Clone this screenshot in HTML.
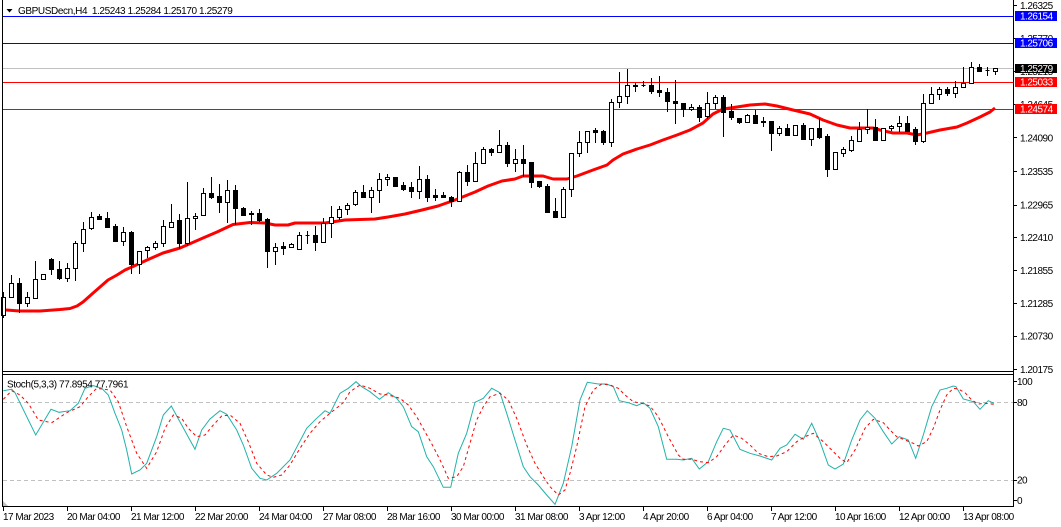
<!DOCTYPE html>
<html><head><meta charset="utf-8"><style>
html,body{margin:0;padding:0;background:#fff;}
svg{display:block;}
text{font-family:"Liberation Sans",sans-serif;font-size:10px;fill:#000;}
.ax{letter-spacing:-0.5px;}
.wt{fill:#fff;letter-spacing:-0.5px;}
</style></head><body>
<svg width="1061" height="527" viewBox="0 0 1061 527" xmlns="http://www.w3.org/2000/svg">
<rect x="0" y="0" width="1061" height="527" fill="#fff"/>
<!-- horizontal levels -->
<g shape-rendering="crispEdges">
<line x1="2" y1="16.5" x2="1013" y2="16.5" stroke="#0000ff"/>
<line x1="2" y1="43.5" x2="1013" y2="43.5" stroke="#0000ff"/>
<line x1="2" y1="68.5" x2="1013" y2="68.5" stroke="#c0c0c0"/>
<line x1="2" y1="82.5" x2="1013" y2="82.5" stroke="#ff0000"/>
<line x1="2" y1="109.5" x2="1013" y2="109.5" stroke="#ff0000"/>
</g>
<!-- MA -->
<polyline fill="none" stroke="#ff0000" stroke-width="3" stroke-linejoin="round" points="6,310 20,311 40,311 60,309.5 70,308.5 77,306 83,302 92,294 100,287 108,280 117,275 125,270 133,266.5 147,260 163,253 180,248 187,245 203,238 217,232 233,224.5 250,222.5 265,223 275,225 288,225 295,223 325,223 345,220 375,219 388,217 405,214 422,210 438,206 455,200 465,196 475,192 488,186 502,181 515,179 523,176 543,176 553,179 567,179 577,176 593,170 607,165 613,160 623,154 637,149 650,145 663,140 677,135 690,130 703,123 713,114 723,109 737,107 750,105 765,104 777,106 793,110 810,114 823,120 837,125 850,128 873,128 880,130 893,133 907,133 917,135 927,133 940,130 957,127 967,123 980,117 990,112 995,108"/>
<!-- wicks -->
<path fill="none" stroke="#000" stroke-width="1" shape-rendering="crispEdges" d="M3.5 292V318M11.5 275V297M19.5 278V313M27.5 292V307M35.5 261V298M43.5 274V280M51.5 258V275M59.5 261V280M67.5 263V282M75.5 241V281M83.5 222V252M91.5 212V230M99.5 214V220M107.5 212V228M115.5 224V242M123.5 227V246M131.5 231V274M139.5 251V274M147.5 246V258M155.5 241V250M163.5 220V247M171.5 204V227M179.5 214V249M187.5 182V246M195.5 213V230M203.5 188V216M211.5 177V199M219.5 184V213M227.5 180V223M235.5 185V225M243.5 207V216M251.5 211V225M259.5 209V222M267.5 218V268M275.5 243V265M283.5 242V255M291.5 243V247M299.5 232V249M307.5 231V244M315.5 226V251M323.5 218V243M331.5 206V238M339.5 206V220M347.5 203V215M355.5 190V206M363.5 185V197M371.5 187V213M379.5 173V203M387.5 174V186M395.5 177V187M403.5 182V191M411.5 182V198M419.5 166V199M427.5 175V202M435.5 189V201M443.5 192V198M451.5 196V207M459.5 171V201M467.5 165V186M475.5 152V181M483.5 147V164M491.5 148V156M499.5 130V153M507.5 142V167M515.5 149V172M523.5 145V177M531.5 162V188M539.5 181V188M547.5 184V213M555.5 198V217M563.5 187V217M571.5 153V197M579.5 131V157M587.5 131V153M595.5 128V143M603.5 130V145M611.5 99V147M619.5 72V108M627.5 69V104M635.5 83V92M643.5 81V87M651.5 78V94M659.5 76V97M667.5 88V112M675.5 80V124M683.5 103V117M691.5 104V111M699.5 105V122M707.5 92V119M715.5 95V109M723.5 95V137M731.5 104V120M739.5 118V124M747.5 114V123M755.5 110V124M763.5 117V127M771.5 121V151M779.5 126V136M787.5 124V136M795.5 125V136M803.5 123V140M811.5 128V146M819.5 118V139M827.5 134V177M835.5 152V169M843.5 147V157M851.5 136V152M859.5 122V141M867.5 109V134M875.5 119V140M883.5 128V141M891.5 125V131M899.5 116V132M907.5 116V132M915.5 127V145M923.5 94V143M931.5 87V104M939.5 87V100M947.5 87V96M955.5 81V98M963.5 67V87M971.5 62V84M979.5 64V72M987.5 67V76M995.5 68V75"/>
<!-- white bodies -->
<path fill="#fff" stroke="#000" stroke-width="1" shape-rendering="crispEdges" d="M1.5 297.5h4v18h-4zM9.5 283.5h4v14h-4zM25.5 297.5h4v6h-4zM33.5 279.5h4v19h-4zM41.5 274.5h4v5h-4zM65.5 268.5h4v10h-4zM73.5 243.5h4v25h-4zM81.5 229.5h4v14h-4zM89.5 217.5h4v11h-4zM121.5 232.5h4v9h-4zM137.5 251.5h4v13h-4zM145.5 247.5h4v3h-4zM153.5 243.5h4v4h-4zM161.5 226.5h4v17h-4zM169.5 222.5h4v5h-4zM185.5 218.5h4v25h-4zM193.5 216.5h4v2h-4zM201.5 193.5h4v22h-4zM225.5 190.5h4v12h-4zM273.5 247.5h4v4h-4zM289.5 244.5h4v3h-4zM297.5 235.5h4v14h-4zM305.5 235.5h4v0h-4zM321.5 223.5h4v19h-4zM329.5 217.5h4v6h-4zM337.5 209.5h4v8h-4zM345.5 205.5h4v4h-4zM353.5 192.5h4v12h-4zM369.5 190.5h4v7h-4zM377.5 179.5h4v11h-4zM385.5 177.5h4v2h-4zM417.5 179.5h4v12h-4zM457.5 172.5h4v29h-4zM473.5 163.5h4v18h-4zM481.5 149.5h4v14h-4zM497.5 145.5h4v7h-4zM513.5 159.5h4v4h-4zM561.5 189.5h4v28h-4zM569.5 153.5h4v36h-4zM577.5 142.5h4v11h-4zM585.5 131.5h4v11h-4zM609.5 102.5h4v40h-4zM617.5 96.5h4v6h-4zM625.5 85.5h4v11h-4zM641.5 85.5h4v0h-4zM689.5 107.5h4v2h-4zM705.5 103.5h4v13h-4zM713.5 97.5h4v6h-4zM745.5 115.5h4v7h-4zM777.5 128.5h4v5h-4zM793.5 125.5h4v10h-4zM809.5 128.5h4v11h-4zM833.5 152.5h4v17h-4zM841.5 149.5h4v4h-4zM849.5 140.5h4v10h-4zM857.5 129.5h4v12h-4zM865.5 127.5h4v2h-4zM881.5 128.5h4v12h-4zM889.5 126.5h4v2h-4zM897.5 123.5h4v3h-4zM921.5 103.5h4v38h-4zM929.5 94.5h4v9h-4zM937.5 89.5h4v5h-4zM953.5 87.5h4v6h-4zM961.5 83.5h4v4h-4zM969.5 67.5h4v16h-4zM993.5 68.5h4v3h-4z"/>
<!-- black bodies -->
<path fill="#000" stroke="#000" stroke-width="1" shape-rendering="crispEdges" d="M17.5 283.5h4v20h-4zM49.5 259.5h4v10h-4zM57.5 269.5h4v9h-4zM97.5 216.5h4v3h-4zM105.5 218.5h4v9h-4zM113.5 226.5h4v15h-4zM129.5 232.5h4v32h-4zM177.5 220.5h4v23h-4zM209.5 193.5h4v4h-4zM217.5 196.5h4v6h-4zM233.5 190.5h4v18h-4zM241.5 208.5h4v7h-4zM249.5 213.5h4v1h-4zM257.5 213.5h4v7h-4zM265.5 219.5h4v32h-4zM281.5 246.5h4v2h-4zM313.5 235.5h4v7h-4zM361.5 192.5h4v5h-4zM393.5 177.5h4v9h-4zM401.5 185.5h4v4h-4zM409.5 187.5h4v4h-4zM425.5 179.5h4v18h-4zM433.5 195.5h4v2h-4zM441.5 195.5h4v2h-4zM449.5 197.5h4v4h-4zM465.5 172.5h4v9h-4zM489.5 149.5h4v3h-4zM505.5 145.5h4v18h-4zM521.5 159.5h4v4h-4zM529.5 162.5h4v20h-4zM537.5 181.5h4v5h-4zM545.5 186.5h4v26h-4zM553.5 211.5h4v6h-4zM593.5 130.5h4v2h-4zM601.5 131.5h4v11h-4zM633.5 85.5h4v1h-4zM649.5 85.5h4v6h-4zM657.5 90.5h4v2h-4zM665.5 92.5h4v9h-4zM673.5 101.5h4v2h-4zM681.5 103.5h4v6h-4zM697.5 107.5h4v10h-4zM721.5 97.5h4v15h-4zM729.5 111.5h4v6h-4zM737.5 118.5h4v4h-4zM753.5 115.5h4v8h-4zM761.5 121.5h4v1h-4zM769.5 121.5h4v12h-4zM785.5 128.5h4v7h-4zM801.5 125.5h4v14h-4zM817.5 128.5h4v9h-4zM825.5 136.5h4v33h-4zM873.5 127.5h4v13h-4zM905.5 123.5h4v8h-4zM913.5 129.5h4v12h-4zM945.5 89.5h4v4h-4zM977.5 67.5h4v4h-4zM985.5 70.5h4v0h-4z"/>
<!-- title -->
<polygon points="6.5,9 12.5,9 9.5,12.5" fill="#000"/>
<text x="18" y="14" style="letter-spacing:-0.4px;white-space:pre" xml:space="preserve">GBPUSDecn,H4  1.25243 1.25284 1.25170 1.25279</text>
<!-- frame -->
<g stroke="#000" stroke-width="1" shape-rendering="crispEdges" fill="none">
<line x1="2.5" y1="0" x2="2.5" y2="507"/>
<line x1="1013.5" y1="0" x2="1013.5" y2="507"/>
<line x1="2" y1="371.5" x2="1014" y2="371.5"/>
<line x1="2" y1="374.5" x2="1014" y2="374.5"/>
<line x1="2" y1="506.5" x2="1014" y2="506.5"/>
<path d="M1013 5.5h4M1013 38.5h4M1013 71.5h4M1013 104.5h4M1013 137.5h4M1013 171.5h4M1013 205.5h4M1013 237.5h4M1013 270.5h4M1013 303.5h4M1013 336.5h4M1013 369.5h4"/>
<path d="M1013 381.5h4M1013 402.5h4M1013 480.5h4M1013 500.5h4"/>
<path d="M3.5 507v4M67.5 507v4M131.5 507v4M195.5 507v4M259.5 507v4M323.5 507v4M387.5 507v4M451.5 507v4M515.5 507v4M579.5 507v4M643.5 507v4M707.5 507v4M771.5 507v4M835.5 507v4M899.5 507v4M963.5 507v4"/>
</g>
<!-- price labels -->
<g class="ax">
<text class="ax" x="1020" y="9">1.26325</text>
<text class="ax" x="1020" y="42">1.25770</text>
<text class="ax" x="1020" y="75">1.25215</text>
<text class="ax" x="1020" y="108">1.24645</text>
<text class="ax" x="1020" y="141.5">1.24090</text>
<text class="ax" x="1020" y="175">1.23535</text>
<text class="ax" x="1020" y="208.5">1.22965</text>
<text class="ax" x="1020" y="241">1.22410</text>
<text class="ax" x="1020" y="274">1.21855</text>
<text class="ax" x="1020" y="307">1.21285</text>
<text class="ax" x="1020" y="339.5">1.20730</text>
<text class="ax" x="1020" y="373">1.20175</text>
</g>
<!-- price boxes -->
<rect x="1015" y="11" width="42" height="10" fill="#0000ff"/>
<text class="wt" x="1020" y="19.5">1.26154</text>
<rect x="1015" y="38" width="42" height="10" fill="#0000ff"/>
<text class="wt" x="1020" y="46.5">1.25706</text>
<rect x="1015" y="64" width="42" height="9" fill="#000"/>
<text class="wt" x="1020" y="72">1.25279</text>
<rect x="1015" y="77" width="42" height="10" fill="#ff0000"/>
<text class="wt" x="1020" y="85.5">1.25033</text>
<rect x="1015" y="104" width="42" height="10" fill="#ff0000"/>
<text class="wt" x="1020" y="112.5">1.24574</text>
<!-- stochastic -->
<g stroke="#c0c0c0" stroke-width="1" stroke-dasharray="4,3" shape-rendering="crispEdges">
<line x1="3" y1="402.5" x2="1013" y2="402.5"/>
<line x1="3" y1="480.5" x2="1013" y2="480.5"/>
</g>
<polyline fill="none" stroke="#20b2aa" stroke-width="1" points="3.3,390.7 11.7,389.3 15,392.7 35.7,435 51,409.3 59,412.3 70,410.7 78.3,403.3 85,388.3 93.3,385.7 101.7,388.3 108.3,395 115,413.3 121.7,430 126.7,450 131.7,474 140,470 146.7,463.3 156.7,436.7 163.3,415 171.3,406 181.7,425 195,449.3 201.7,430 210,419 220,410.7 226.7,414.3 236.7,430 243.3,445 251.7,468.3 260,478.3 266.7,480 276.7,473.3 290,460 306.7,428.3 316.7,418.3 325,410.7 330,413.3 340,393.3 348.3,388.3 356,381.7 361.7,386.7 370,391.7 379.3,399.3 388.3,392.7 396.7,398.3 403.3,406.7 411.7,426.7 418.3,431.7 426.7,456.7 433.3,466.7 443.3,487.3 450.7,487.3 458.3,453.3 466.7,433.3 475,402.3 483.3,398.3 491.7,388.3 500,392.7 506.7,413.3 515,440 523.3,466.7 530,476.7 538.3,485 546.7,495 555,504.3 563.3,483.3 571.7,446.7 580,400 587.3,382.3 598.3,384 606.7,384 613.3,386.7 619.3,400.7 628.3,402.7 636.7,405.7 643.3,402.7 650,408.3 658.3,426.7 666.7,459.3 676.7,459.3 683.3,460 691.7,458.3 699.3,469 708.3,461.7 716.7,441.7 723.3,428.3 730,430 740,449.3 750,453.3 760,456 771.7,460 780,448.3 786.7,445 795,434.3 803.3,439.3 811.7,423.3 820,441.7 828.3,465 835,469 843.3,464 851.7,440 860,420 867.3,410.7 875,418.3 883.3,431.7 891.7,444 899.3,436.7 908.3,440 915.7,458.3 923.3,435 931.7,406.7 940,390 946.7,388.3 953.3,386 956,386.7 963.3,399 973.3,401.7 980,409.3 988.3,400.7 994,403.3"/>
<polyline fill="none" stroke="#ff0000" stroke-width="1" stroke-dasharray="3,3" points="3.3,399.3 11.7,390.7 20,395 28.3,403.3 38.3,420 51.7,422.7 66.7,412.7 80,406.7 88.3,396.7 96.7,388.3 110,390 118.3,401.7 126.7,426.7 136.7,453.3 146.7,468.3 156.7,451.7 165,428.3 173.3,415 181.7,418.3 188.3,428.3 196.7,436.7 205,435 213.3,425 221.7,416 230,415 240,423.3 248.3,441.7 256.7,463.3 266.7,475 273.3,477.3 281.7,475 290,465 300,448.3 310,433.3 320,421.7 330,413.3 343.3,402.7 350,391.7 360,385 370,388.3 380,394 388.3,395 400,398.3 408.3,405 416.7,416.7 425,431.7 433.3,446.7 441.7,463.3 448.3,478.3 456.7,476.7 463.3,466.7 470,443.3 476.7,420 483.3,406.7 490,396.7 500,393.3 508.3,400 516.7,418.3 526.7,445 535,463.3 543.3,476.7 550,486.7 558.3,495 565,490 570,473.3 576.7,446.7 585,406.7 593.3,390 601.7,384 610,385 618.3,388.3 625,395 633.3,401.7 641.7,403.3 650,406 658.3,416.7 668.3,436.7 678.3,455 683.3,459.3 691.7,459.3 700,461.7 708.3,462.7 716.7,456.7 725,445 733.3,435 741.7,438.3 750,445 758.3,453.3 768.3,456.7 776.7,456 786.7,451.7 796.7,441.7 805,436.7 813.3,433.3 823.3,441.7 831.7,450 840,458.3 846.7,462.7 855,450 865,428.3 873.3,419.3 883.3,422.7 890,430 896.7,436.7 905,440 913.3,443.3 918.3,446 926.7,441.7 933.3,428.3 940,410 946.7,395 953.3,388.3 958.3,389 965,392.7 971.7,400 978.3,404 985,403.3 994,404.3"/>
<text x="7" y="387.5" style="letter-spacing:-0.4px">Stoch(5,3,3) 77.8954 77.7961</text>
<polygon points="3,501 3,506 8,506" fill="#c0c0c0"/>
<text class="ax" x="1017" y="385">100</text>
<text class="ax" x="1017" y="406">80</text>
<text class="ax" x="1017" y="483.5">20</text>
<text class="ax" x="1017" y="504">0</text>
<!-- time labels -->
<g class="ax">
<text class="ax" x="3" y="520">17 Mar 2023</text>
<text class="ax" x="67" y="520">20 Mar 04:00</text>
<text class="ax" x="131" y="520">21 Mar 12:00</text>
<text class="ax" x="195" y="520">22 Mar 20:00</text>
<text class="ax" x="259" y="520">24 Mar 04:00</text>
<text class="ax" x="323" y="520">27 Mar 08:00</text>
<text class="ax" x="387" y="520">28 Mar 16:00</text>
<text class="ax" x="451" y="520">30 Mar 00:00</text>
<text class="ax" x="515" y="520">31 Mar 08:00</text>
<text class="ax" x="579" y="520">3 Apr 12:00</text>
<text class="ax" x="643" y="520">4 Apr 20:00</text>
<text class="ax" x="707" y="520">6 Apr 04:00</text>
<text class="ax" x="771" y="520">7 Apr 12:00</text>
<text class="ax" x="835" y="520">10 Apr 16:00</text>
<text class="ax" x="899" y="520">12 Apr 00:00</text>
<text class="ax" x="963" y="520">13 Apr 08:00</text>
</g>
</svg>
</body></html>
